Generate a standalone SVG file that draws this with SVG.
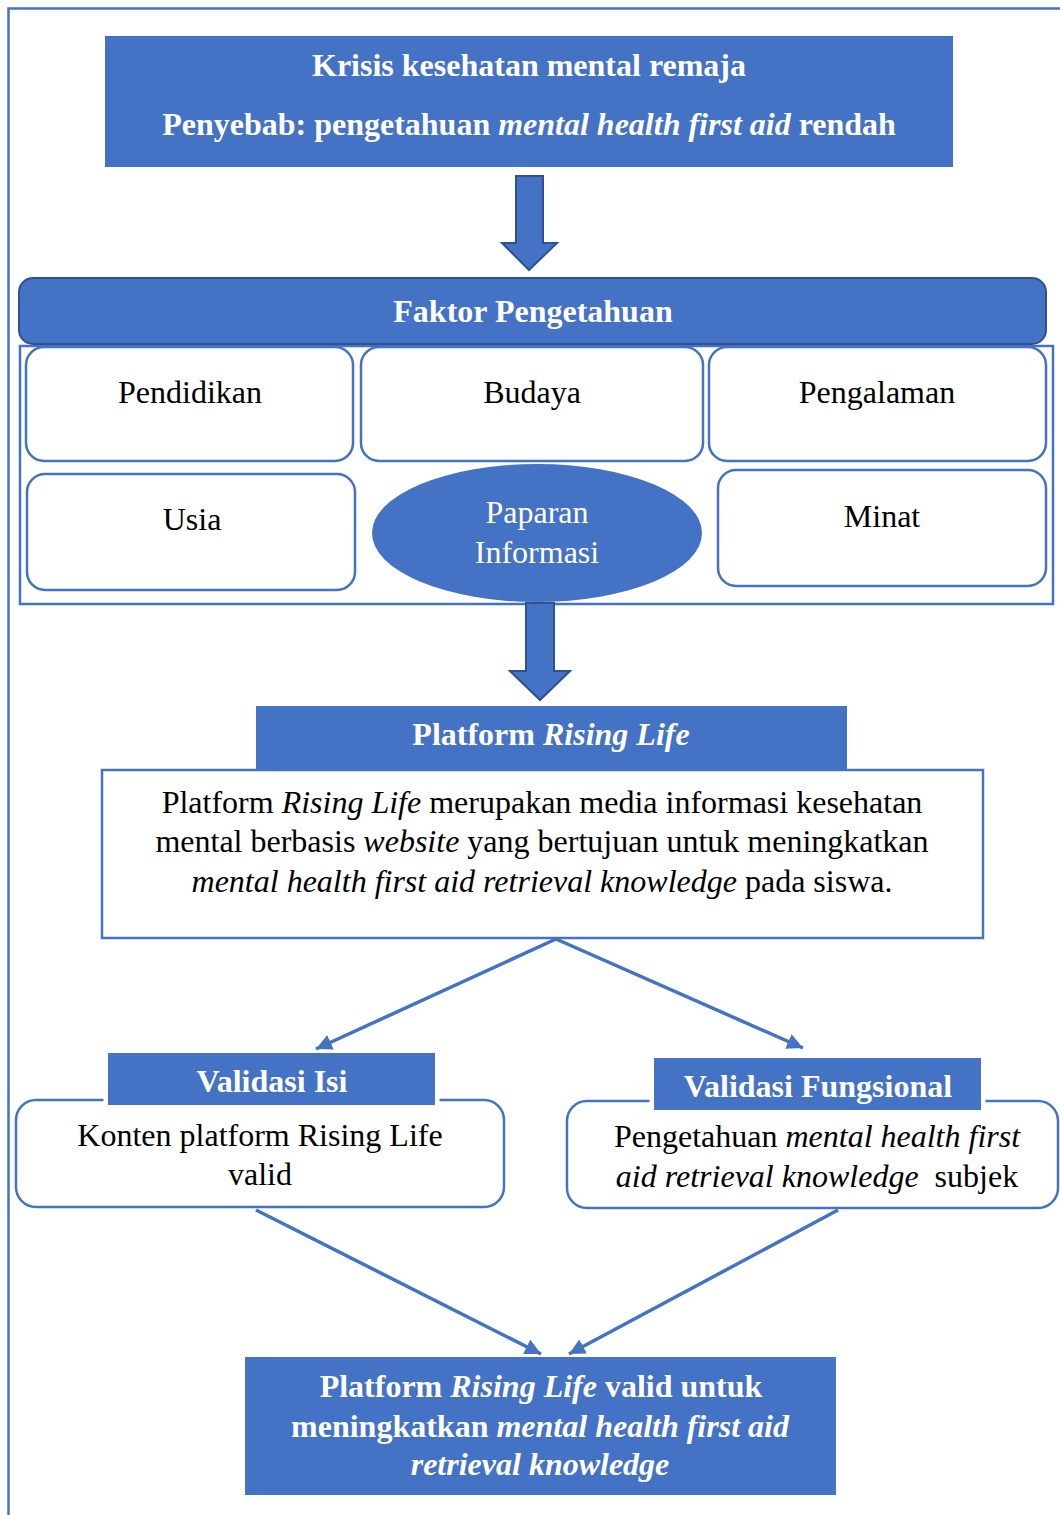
<svg xmlns="http://www.w3.org/2000/svg" width="1060" height="1515" viewBox="0 0 1060 1515">
<style>
  text { font-family: "Liberation Serif", "Times New Roman", serif; font-size: 32px; text-anchor: middle; }
  .w { fill: #ffffff; }
  .k { fill: #000000; }
  .b { font-weight: bold; }
  .i { font-style: italic; }
  .fill { fill: #4472C4; }
  .box { fill: #ffffff; stroke: #4472C4; stroke-width: 2.5; }
  .blk { fill: #4472C4; stroke: #2F528F; stroke-width: 2; }
  .conn { fill: none; stroke: #4472C4; stroke-width: 3.5; marker-end: url(#ah); }
</style>
<defs>
  <marker id="ah" markerUnits="userSpaceOnUse" markerWidth="18" markerHeight="16" refX="16" refY="8" orient="auto">
    <path d="M0,0 L16,8 L0,16 z" fill="#4472C4"/>
  </marker>
</defs>
<rect width="1060" height="1515" fill="#ffffff"/>
<path d="M8.5,1520 L8.5,8.5 L1070,8.5" fill="none" stroke="#4472C4" stroke-width="2.5"/>

<g id="krisis">
  <rect class="fill" x="105" y="36" width="848" height="131"/>
  <text class="w b" x="529" y="76">Krisis kesehatan mental remaja</text>
  <text class="w b" x="529" y="135">Penyebab: pengetahuan <tspan class="i">mental health first aid</tspan> rendah</text>
</g>

<g id="faktor-pengetahuan">
  <rect x="20" y="346" width="1033" height="258" fill="none" stroke="#4472C4" stroke-width="2.5"/>
  <rect class="blk" x="19" y="278" width="1027" height="66" rx="14"/>
  <text class="w b" x="533" y="322">Faktor Pengetahuan</text>
</g>

<g id="pendidikan">
  <rect class="box" x="26" y="347" width="327" height="114" rx="18"/>
  <text class="k" x="190" y="403">Pendidikan</text>
</g>
<g id="budaya">
  <rect class="box" x="361" y="347" width="342" height="114" rx="18"/>
  <text class="k" x="532" y="403">Budaya</text>
</g>
<g id="pengalaman">
  <rect class="box" x="709" y="347" width="337" height="114" rx="18"/>
  <text class="k" x="877" y="403">Pengalaman</text>
</g>
<g id="usia">
  <rect class="box" x="27" y="474" width="328" height="116" rx="18"/>
  <text class="k" x="192" y="530">Usia</text>
</g>
<g id="paparan-informasi">
  <ellipse class="fill" cx="537" cy="533" rx="165" ry="69"/>
  <text class="w" x="537" y="523">Paparan</text>
  <text class="w" x="537" y="563">Informasi</text>
</g>
<g id="minat">
  <rect class="box" x="718" y="470" width="328" height="116" rx="18"/>
  <text class="k" x="882" y="527">Minat</text>
</g>

<g id="platform">
  <rect class="fill" x="256" y="706" width="591" height="64"/>
  <text class="w b" x="551" y="745">Platform <tspan class="i">Rising Life</tspan></text>
  <rect class="box" x="102" y="770" width="881" height="168"/>
  <text class="k" x="542" y="813">Platform <tspan class="i">Rising Life</tspan> merupakan media informasi kesehatan</text>
  <text class="k" x="542" y="852">mental berbasis <tspan class="i">website</tspan> yang bertujuan untuk meningkatkan</text>
  <text class="k" x="542" y="892"><tspan class="i">mental health first aid retrieval knowledge</tspan> pada siswa.</text>
</g>

<g id="validasi-isi">
  <rect class="box" x="16" y="1100" width="488" height="107" rx="20"/>
  <rect class="fill" x="108" y="1053" width="327" height="52" stroke="#ffffff" stroke-width="9"/>
  <rect class="fill" x="108" y="1053" width="327" height="52"/>
  <text class="w b" x="272" y="1092">Validasi Isi</text>
  <text class="k" x="260" y="1146">Konten platform Rising Life</text>
  <text class="k" x="260" y="1185">valid</text>
</g>

<g id="validasi-fungsional">
  <rect class="box" x="567" y="1101" width="491" height="107" rx="20"/>
  <rect class="fill" x="654" y="1058" width="327" height="52" stroke="#ffffff" stroke-width="9"/>
  <rect class="fill" x="654" y="1058" width="327" height="52"/>
  <text class="w b" x="818" y="1097">Validasi Fungsional</text>
  <text class="k" x="817" y="1147">Pengetahuan <tspan class="i">mental health first</tspan></text>
  <text class="k" x="817" y="1187" xml:space="preserve"><tspan class="i">aid retrieval knowledge</tspan>  subjek</text>
</g>

<g id="hasil">
  <rect class="fill" x="245" y="1357" width="591" height="138"/>
  <text class="w b" x="541" y="1397">Platform <tspan class="i">Rising Life</tspan> valid untuk</text>
  <text class="w b" x="540" y="1437">meningkatkan <tspan class="i">mental health first aid</tspan></text>
  <text class="w b i" x="540" y="1475">retrieval knowledge</text>
</g>

<g id="connectors">
  <path class="blk" d="M516,176 L543,176 L543,243 L557,243 L529,270 L502,243 L516,243 Z"/>
  <path class="blk" d="M526,603 L554,603 L554,671 L570,671 L540,700 L510,671 L526,671 Z"/>
  <line class="conn" x1="556" y1="939" x2="316" y2="1049"/>
  <line class="conn" x1="556" y1="939" x2="803" y2="1048"/>
  <line class="conn" x1="256" y1="1210" x2="541" y2="1354"/>
  <line class="conn" x1="838" y1="1210" x2="569" y2="1354"/>
</g>
</svg>
